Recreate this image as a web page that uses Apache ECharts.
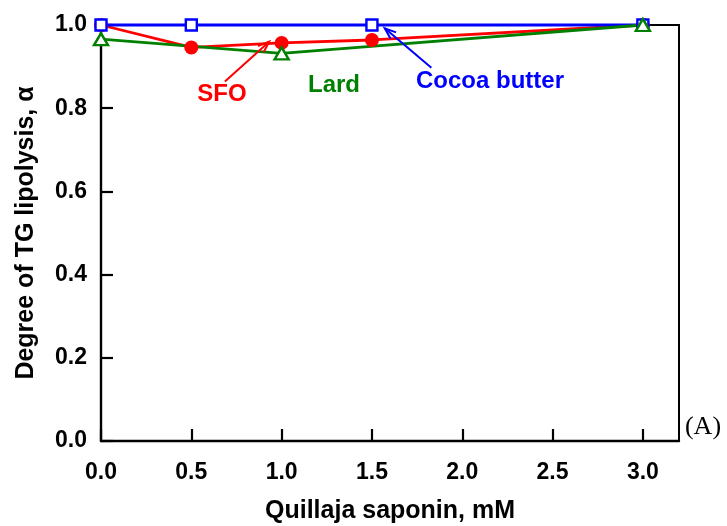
<!DOCTYPE html>
<html>
<head>
<meta charset="utf-8">
<script src="https://cdn.jsdelivr.net/npm/echarts@6/dist/echarts.min.js"></script>
<style>
  html, body { margin: 0; padding: 0; background: #fff; }
  #chart { width: 727px; height: 526px; }
</style>
</head>
<body>
<div id="chart"></div>
<script>
// Quillaja saponin concentration (mM) and degree of TG lipolysis for each fat
const sfoX = [0, 0.5, 1.0, 1.5, 3.0];
const sfoY = [1.0, 0.946, 0.957, 0.964, 1.0];

const cocoaX = [0, 0.5, 1.5, 3.0];
const cocoaY = [1.0, 1.0, 1.0, 1.0];

const lardX = [0, 1.0, 3.0];
const lardY = [0.966, 0.932, 1.0];

const xTicks = [0, 0.5, 1.0, 1.5, 2.0, 2.5, 3.0];
const yTicks = [0, 0.2, 0.4, 0.6, 0.8, 1.0];

// Annotation arrows, [from, to] in data units
const sfoArrow = [[0.686, 0.864], [0.931, 0.960]];
const cocoaArrow = [[1.829, 0.897], [1.571, 0.992]];

const FONT = 'Arial, "Liberation Sans", Helvetica, sans-serif';
const RED = '#ff0000', GREEN = '#008000', BLUE = '#0000ff';

const pairs = (xs, ys) => xs.map((x, i) => [x, ys[i]]);

const chart = echarts.init(document.getElementById('chart'));

const option = {
  animation: false,
  backgroundColor: '#fff',
  grid: {
    left: 101, right: 48, top: 25, bottom: 85,
    containLabel: false,
    outerBoundsMode: 'none',
    show: true, borderColor: '#000', borderWidth: 2, backgroundColor: 'transparent'
  },
  xAxis: {
    type: 'value',
    min: 0, max: 3.2, interval: 0.5,
    name: 'Quillaja saponin, mM',
    nameLocation: 'middle',
    nameGap: 58,
    nameTextStyle: { fontFamily: FONT, fontWeight: 'bold', fontSize: 25, color: '#000' },
    axisLine: { show: true, onZero: false, lineStyle: { color: '#000', width: 2.4 } },
    axisTick: {
      show: true, inside: true, length: 12, lineStyle: { color: '#000', width: 2.2 },
      customValues: xTicks
    },
    axisLabel: {
      fontFamily: FONT, fontWeight: 'bold', fontSize: 23, color: '#000', margin: 20,
      customValues: xTicks,
      formatter: v => v.toFixed(1)
    },
    splitLine: { show: false }
  },
  yAxis: {
    type: 'value',
    min: 0, max: 1.0, interval: 0.2,
    name: 'Degree of TG lipolysis, α',
    nameLocation: 'middle',
    nameGap: 62,
    nameTextStyle: { fontFamily: FONT, fontWeight: 'bold', fontSize: 25, color: '#000' },
    axisLine: { show: true, onZero: false, lineStyle: { color: '#000', width: 2.4 } },
    axisTick: {
      show: true, inside: true, length: 12, lineStyle: { color: '#000', width: 2.2 },
      customValues: yTicks
    },
    axisLabel: {
      fontFamily: FONT, fontWeight: 'bold', fontSize: 23, color: '#000', margin: 14,
      padding: [5, 0, 0, 0],
      customValues: yTicks,
      formatter: v => v.toFixed(1)
    },
    splitLine: { show: false }
  },
  series: [
    {
      name: 'SFO',
      type: 'line',
      clip: false,
      data: pairs(sfoX, sfoY),
      symbol: 'circle',
      symbolSize: 14,
      showAllSymbol: true,
      lineStyle: { color: RED, width: 2.8 },
      itemStyle: { color: RED, borderWidth: 0 }
    },
    {
      name: 'Cocoa butter',
      type: 'line',
      clip: false,
      data: pairs(cocoaX, cocoaY),
      symbol: 'rect',
      symbolSize: 11,
      showAllSymbol: true,
      lineStyle: { color: BLUE, width: 2.8 },
      itemStyle: { color: '#fff', borderColor: BLUE, borderWidth: 2.4 }
    },
    {
      name: 'Lard',
      type: 'line',
      clip: false,
      data: pairs(lardX, lardY),
      symbol: 'triangle',
      symbolSize: [14, 12],
      showAllSymbol: true,
      lineStyle: { color: GREEN, width: 2.8 },
      itemStyle: { color: '#fff', borderColor: GREEN, borderWidth: 2.4 }
    }
  ]
};

chart.setOption(option);

// Arrow with an open "V" head, positioned through the chart's own coordinate system
function arrow(from, to, color) {
  const p0 = chart.convertToPixel({ gridIndex: 0 }, from);
  const p1 = chart.convertToPixel({ gridIndex: 0 }, to);
  const ang = Math.atan2(p1[1] - p0[1], p1[0] - p0[0]);
  const L = 12, spread = 0.36;
  const a1 = [p1[0] - L * Math.cos(ang - spread), p1[1] - L * Math.sin(ang - spread)];
  const a2 = [p1[0] - L * Math.cos(ang + spread), p1[1] - L * Math.sin(ang + spread)];
  return [
    { type: 'line', shape: { x1: p0[0], y1: p0[1], x2: p1[0], y2: p1[1] },
      style: { stroke: color, lineWidth: 2 }, z: 50 },
    { type: 'polyline', shape: { points: [a1, p1, a2] },
      style: { stroke: color, lineWidth: 2, fill: null }, z: 50 }
  ];
}

function label(text, x, y, color) {
  return {
    type: 'text', x: x, y: y, z: 60,
    style: {
      text: text, fill: color, font: 'bold 24px ' + FONT,
      textAlign: 'center', textVerticalAlign: 'middle'
    }
  };
}

chart.setOption({
  graphic: [
    ...arrow(sfoArrow[0], sfoArrow[1], RED),
    ...arrow(cocoaArrow[0], cocoaArrow[1], BLUE),
    label('SFO', 222, 94, RED),
    label('Lard', 334, 85, GREEN),
    label('Cocoa butter', 490, 81, BLUE),
    {
      type: 'text', x: 703, y: 427, z: 60,
      style: {
        text: '(A)', fill: '#000', font: '26px "Times New Roman", "Liberation Serif", serif',
        textAlign: 'center', textVerticalAlign: 'middle'
      }
    }
  ]
});
</script>
</body>
</html>
